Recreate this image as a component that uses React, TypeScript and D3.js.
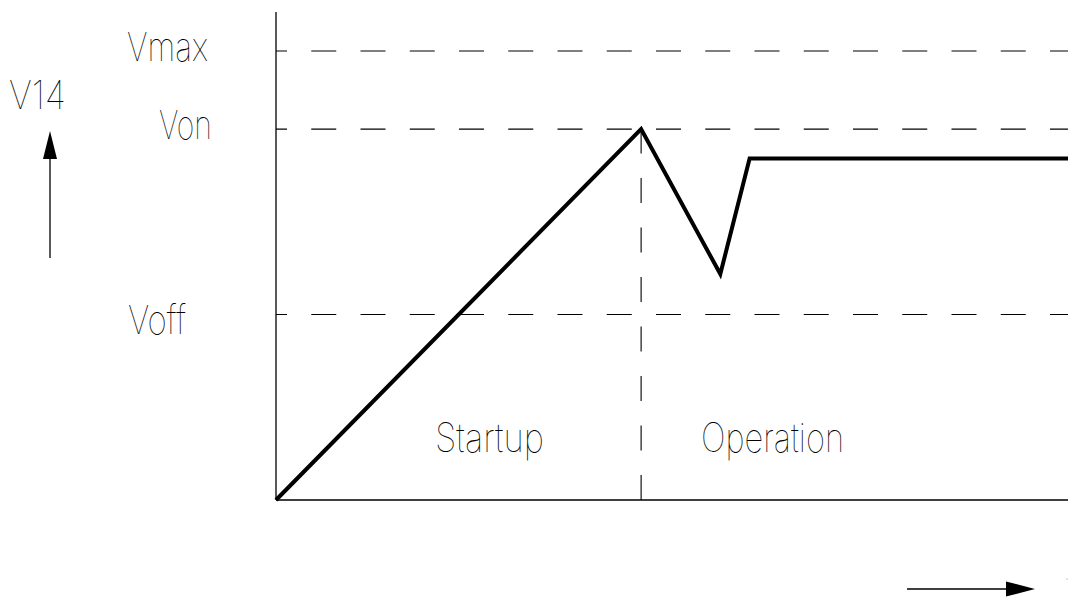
import * as d3 from "d3";

// reference levels (volts, arbitrary units)
const levelNames = ["Vmax", "Von", "Voff"];
const levelValues = [9.2, 7.6, 3.8];

// V14 waveform: time vs voltage
const waveT = [0, 46.1, 56.1, 59.8, 100];
const waveV = [0, 7.6, 4.63, 7.0, 7.0];

const phaseNames = ["Startup", "Operation"];

const W = 1068;
const H = 599;
const FONT = "Inter, 'DejaVu Sans', sans-serif";

export default function App() {
  const x = d3.scaleLinear().domain([0, 100]).range([276, 1068]);
  const y = d3.scaleLinear().domain([0, 10]).range([500, 12]);

  const pts = waveT.map((t, i) => [t, waveV[i]] as [number, number]);
  const line = d3
    .line<[number, number]>()
    .x((d) => x(d[0]))
    .y((d) => y(d[1]));

  // vertical divider sits at the peak (Von reached)
  const peakT = waveT[1];
  const peakV = waveV[1];

  // label layout [x, baseline, width]
  const levelLabelPos: Record<string, [number, number, number]> = {
    Vmax: [127, 61, 81],
    Von: [159, 139, 53],
    Voff: [128, 334, 58],
  };
  const phasePos: [number, number, number][] = [
    [435, 452, 109],
    [701, 452, 143],
  ];

  const txt = {
    fontFamily: FONT,
    fontWeight: 100,
    fontSize: 40,
    fill: "#000",
  } as const;

  return (
    <svg
      width={W}
      height={H}
      style={{ position: "absolute", left: 0, top: 0, background: "#fff" }}
    >
      {/* dashed level lines */}
      {levelValues.map((v, i) => (
        <line
          key={levelNames[i]}
          x1={x(0)}
          x2={x(100)}
          y1={y(v)}
          y2={y(v)}
          stroke="#000"
          strokeWidth={1.1}
          strokeDasharray="25 24.25"
          strokeDashoffset={14}
        />
      ))}

      {/* vertical divider between startup and operation */}
      <line
        x1={x(peakT)}
        x2={x(peakT)}
        y1={y(0)}
        y2={y(peakV)}
        stroke="#000"
        strokeWidth={1.1}
        strokeDasharray="25 24.5"
      />

      {/* axes */}
      <line x1={x(0)} x2={x(0)} y1={y(10)} y2={y(0)} stroke="#000" strokeWidth={1.3} />
      <line x1={x(0)} x2={x(100)} y1={y(0)} y2={y(0)} stroke="#000" strokeWidth={1.3} />

      {/* waveform */}
      <path
        d={line(pts) ?? ""}
        fill="none"
        stroke="#000"
        strokeWidth={4}
        strokeLinejoin="miter"
      />

      {/* level labels */}
      {levelNames.map((n) => {
        const [lx, ly, lw] = levelLabelPos[n];
        return (
          <text key={n} x={lx} y={ly} textLength={lw} lengthAdjust="spacingAndGlyphs" {...txt}>
            {n}
          </text>
        );
      })}

      {/* phase labels */}
      {phaseNames.map((n, i) => (
        <text
          key={n}
          x={phasePos[i][0]}
          y={phasePos[i][1]}
          textLength={phasePos[i][2]}
          lengthAdjust="spacingAndGlyphs"
          {...txt}
        >
          {n}
        </text>
      ))}

      {/* y quantity label + arrow */}
      <text x={9} y={109} textLength={57} lengthAdjust="spacingAndGlyphs" {...txt}>
        V14
      </text>
      <line x1={50} x2={50} y1={258} y2={158} stroke="#000" strokeWidth={1.3} />
      <path d="M50,131 L43,159 L57,159 Z" fill="#000" />

      {/* time arrow */}
      <line x1={907} x2={1007} y1={589} y2={589} stroke="#000" strokeWidth={1.3} />
      <path d="M1035,589 L1006,581.5 L1006,596.5 Z" fill="#000" />
      <rect x={1066.5} y={578.5} width={1} height={1} fill="#888" />
    </svg>
  );
}
